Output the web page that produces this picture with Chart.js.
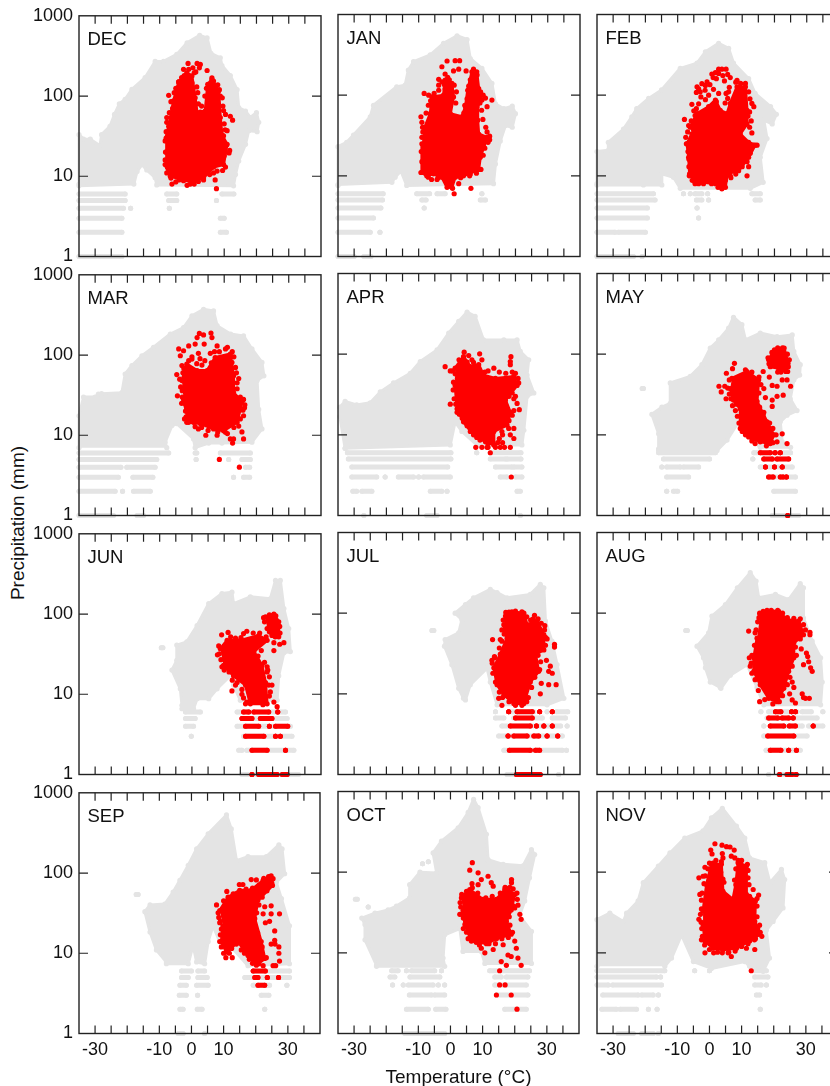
<!DOCTYPE html>
<html><head><meta charset="utf-8">
<style>
html,body{margin:0;padding:0;background:#fff;width:830px;height:1086px;overflow:hidden}
#wrap{position:relative;width:830px;height:1086px;overflow:hidden}
canvas{position:absolute}
#ytitle{position:absolute;left:18px;top:523px;transform:translate(-50%,-50%) rotate(-90deg);font:19px "Liberation Sans",sans-serif;color:#111;white-space:nowrap}
</style>
<script src="https://cdn.jsdelivr.net/npm/chart.js@4"></script>
</head><body><div id="wrap"><div id="ytitle">Precipitation (mm)</div></div>
<script>
const months=["DEC","JAN","FEB","MAR","APR","MAY","JUN","JUL","AUG","SEP","OCT","NOV"];
const xTickLabels=[-30,-10,0,10,30];
const yTicks=[1,10,100,1000];
const xTitle="Temperature (°C)";

// outline of the grey cloud [T,P]; rows [P,T1,T2]; red area outlines [T,P]; red rows; red points; red edge points
const decGray=[[-35,8],[-35,33],[-33.6,29],[-31.5,29],[-28.5,24],[-28,33],[-25.4,42],[-24,59],[-22.5,80],[-20.7,91],[-18.6,121],[-14.5,170],[-11.4,270],[-8.8,270],[-4.7,330],[-1.5,460],[2.4,570],[4.7,530],[5.9,340],[8.8,300],[9.3,240],[11.9,180],[14,120],[14.5,72],[16.6,65],[18.1,54],[20,62],[20.7,47],[20.2,36],[17.6,37],[16.6,25],[14.5,15.5],[13.5,10.5],[12.9,7.6],[-10.9,7.8],[-11.4,9.6],[-14,12],[-15.5,14],[-17,11.5],[-18,8],[-35,7.6]];
const decGrayRows=[[6,-35,-20.7],[5,-35,-20.7],[4,-35,-21.2],[4,-19,-19],[3,-35,-21.7],[2,-35,-21.7],[1,-35,-29.5],[1,-28.5,-21.7],[6,-7.8,-4.7],[5,-7.2,-4.7],[4,-7,-7],[5,7.6,7.6],[6,9.3,13],[3,8.8,10],[2,8.8,10.7]];
const decRedArea=[[[-8.3,27.6],[-7.2,42],[-5.7,87],[-4.1,150],[-1.6,195],[0,178],[1,95],[1.6,62],[4.1,65],[4.9,140],[6.2,161],[8.3,116],[8.8,54],[9.3,33],[10.9,25],[9.8,14],[6.7,13],[3.6,9.6],[0,8.4],[-3.1,9.2],[-6.7,10],[-8.3,14]]];
const decRedRows=[];
const decRed=[[-1.2,255],[1.6,255],[2.6,248],[2.3,225],[-2.6,215],[.7,195],[-1,178],[4.7,208],[6.2,169],[6.7,154],[-4.1,150],[-1.6,140],[0,146],[-3.1,127],[0,116],[8,138],[5.7,116],[8.8,100],[-7.2,102],[-3.6,100],[.5,91],[5.2,91],[2.6,63],[-7.8,54],[-7.8,47],[10.4,59],[11.9,56],[12.6,50],[10.9,37],[9.8,32],[10.7,24.5],[11.7,21],[11.5,19.5],[10.4,13],[7.8,11.6],[6.7,11],[-7.8,11],[-6.2,8],[-2.6,8.8],[-.5,8],[.7,8],[7.6,7],[7.2,9],[-6.5,9.5],[-8,30],[-8,20]];
const decRedEdge=[[-8.2,20],[-8,36],[-7.5,30],[-8.3,16],[-7.6,13],[-6.7,12],[-7,62],[-6,70],[-6.5,85],[-5.5,110],[-5,125],[-4.5,105],[-3.2,170],[-2.4,180],[-1,215],[.3,225],[1.2,200],[1.5,130],[1.8,110],[2,80],[3,75],[4,100],[4.5,125],[7,130],[8.5,120],[9.4,95],[9.6,75],[9.8,66],[10,45],[10.3,38],[10,18],[8,16],[9,28],[-5,8.5],[-4,9],[-1.5,7.7],[2,8.6],[3.6,9],[5.5,10.5],[7.5,14],[9.5,11.8]];

const janGray=[[-35,7.6],[-35,23],[-32.3,26],[-30.2,32],[-25,54],[-24,75],[-16.8,127],[-14.2,133],[-13.2,205],[-11.6,260],[-6.4,315],[-2.3,440],[1.9,545],[5,490],[6,285],[9.6,215],[12.7,140],[13.8,78],[16.4,68],[19,73],[20,59],[19,40],[16.9,42],[15.3,27],[13.8,14],[13.2,8],[-13.7,7.6],[-15.5,11.5],[-17.3,9.6],[-18.3,8.3],[-35,7.8]];
const janGrayRows=[[6,-35,-21],[6,-10.6,-6.6],[6,-4.3,-1.8],[6,9.6,9.6],[5,-35,-21.2],[5,-9,-7.7],[5,9.1,10.7],[4,-35,-21.7],[4,-8.3,-8.3],[3,-35,-24],[2,-35,-25],[2,-22,-22],[1,-35,-30],[1,-27,-24.8]];
const janRedArea=[[[-8.7,35],[-6.4,59],[-5.9,95],[-2.3,100],[-1.8,154],[.3,140],[.8,95],[-.2,59],[3.4,54],[4.5,72],[5.2,115],[6.5,195],[8.1,178],[8.6,121],[9.6,87],[8.1,72],[8.3,49],[8.6,33],[11.2,30],[9.1,17],[8.6,12],[3.9,10],[1.3,9.6],[.3,7.2],[-1.2,7.2],[-2.8,9.6],[-5.4,10.6],[-7.5,10],[-9,11],[-9,25]]];
const janRedRows=[];
const janRed=[[-1.2,265],[-2.8,225],[1.3,268],[2.7,268],[2.4,210],[.8,200],[-1.8,183],[-1,166],[-3.8,157],[-2.8,146],[-3.8,133],[-1.8,120],[1,133],[-8.3,105],[-6.9,100],[4.7,200],[10.7,92],[12.7,87],[11.2,72],[9.9,50],[11.2,35],[12,31],[10.1,25],[7.9,10.8],[9.3,12],[5.8,10],[6.2,7],[1,6],[2.4,8],[-4.3,9],[1.9,10],[-9.3,54],[-9,46]];
const janRedEdge=[[-9,30],[-8.8,40],[-9.2,20],[-9,15],[-9.3,11],[-7.7,60],[-7,75],[-6.3,85],[-5.2,105],[-3.8,115],[-2,135],[-.5,155],[1.7,110],[1.5,80],[5,90],[4,60],[4.3,75],[6,155],[5.5,130],[7,210],[8,195],[9.2,110],[10,100],[9.5,65],[9,80],[10.8,40],[12,28],[11.5,26],[10.5,22],[10,18],[-7,9.6],[-6,9],[-4,9.5],[-1,7.5],[.5,7],[3,9.5],[6,10.5],[8,12]];

const febGray=[[-35,8],[-35,20],[-31.5,20.7],[-31.5,26],[-26.8,38],[-24.2,54],[-22.7,68],[-19,91],[-15,116],[-9.2,215],[-4,250],[-1.4,345],[2.7,440],[5.8,380],[7.3,250],[12,160],[14,105],[18.8,72],[20.6,58],[19.3,44],[16.7,49],[17.7,29],[15.6,17],[16.5,8.3],[12.5,7],[-9.2,7],[-11.3,9.6],[-14.9,10.6],[-14.9,7.7],[-20.6,7.7],[-35,7.7]];
const febGrayRows=[[6,-35,-17.5],[6,-8.2,-8.2],[6,-6.1,-6.1],[6,-4.6,-2.5],[6,-.7,-.7],[6,13,15.6],[5,-35,-17],[5,-4.2,-2.5],[5,-.4,-.4],[5,14,15.6],[4,-35,-19.4],[4,-4,-4],[3,-35,-19.4],[3,-3.5,-3.5],[2,-35,-29.4],[2,-28.4,-20],[1,-35,-23.7],[1,-21,-21]];
const febRedArea=[[[-6.1,40],[-4,59],[-.4,72],[1.7,87],[3.2,65],[5.3,59],[6.3,79],[8.4,127],[11,127],[11.5,65],[11.5,44],[9.4,33],[12,26],[14,24],[12,17],[8.9,11.6],[5.3,10.6],[4.8,7.2],[3.7,6.9],[1.7,8],[-2,8.3],[-4.6,8.3],[-6.3,10.6],[-6.6,17],[-7.1,25],[-5.6,33]]];
const febRedRows=[];
const febRed=[[2.7,210],[3.7,210],[5,210],[.6,183],[2.7,186],[2,160],[-.9,146],[-2.5,139],[-4,127],[-1.4,132],[6.3,165],[8.4,153],[5.5,181],[-4.2,108],[-3,110],[1.1,118],[2.7,105],[-.4,100],[-1.4,88],[5.5,91],[2,83],[-5.6,77],[-4.2,68],[-7.9,50],[-6.6,42],[-4.6,56],[13,79],[13.6,72],[12.3,62],[12.3,40],[5.8,110],[6.8,71],[14.6,24],[-6,11.6],[-6.4,10],[12,13],[11.5,10],[6.3,10],[-4.6,8],[-2,8],[3.7,7],[4.8,8.8]];
const febRedEdge=[[-7.3,25],[-7.5,30],[-6.8,20],[-6.9,35],[-6.5,13],[-6.5,16],[-5.8,48],[-5,64],[-3.5,78],[-2.8,95],[-3.5,120],[-1.5,115],[0,135],[1,165],[1.7,190],[4,175],[4.5,150],[6,125],[5,105],[4.7,80],[8,145],[9.5,140],[11,140],[12,110],[12.4,90],[11.8,55],[12.8,48],[13,34],[12.8,22],[13.5,24],[12.5,19],[11.5,15],[10,13],[-5.5,8.8],[-3.5,8],[-1,8.6],[.5,8],[2.5,7.2],[6.5,9.5],[8,10.5]];

const marGray=[[-35,7],[-35,17.5],[-33.6,30],[-30,30],[-29,32.7],[-28,33],[-21.7,34],[-20.7,58],[-18.6,74],[-15.5,98],[-11.9,125],[-6.7,183],[-2.6,220],[0,308],[3.6,372],[6.7,355],[7.8,232],[12,183],[16,173],[18.6,119],[21.7,81],[22.3,55],[20.2,48],[20.7,21],[21.7,12],[18.6,8.2],[9.3,8],[5.2,8],[1,7],[.5,9],[-4.7,14],[-6.2,13.2],[-8.3,8.2],[-7.8,7]];
const marGrayRows=[[6,-35,-7.2],[6,1,1.5],[6,8.8,18.1],[5,-35,-10.9],[5,1.3,1.3],[5,11.4,11.4],[5,15.5,18.1],[4,-35,-22],[4,-20.2,-11.4],[4,16.6,17.9],[3,-35,-22.8],[3,-18.3,-12.1],[3,12.9,12.9],[3,16,17.9],[2,-35,-23.8],[2,-21.5,-21.5],[2,-18.1,-12.9],[1,-35,-24.3],[1,-17,-15]];
const marRedArea=[[[-3.1,48],[-1.6,77],[1.6,64],[4.7,64],[7.2,93],[11.9,103],[12.9,55],[12.9,34],[15.5,26],[14,14.5],[9.8,11.4],[6.7,12],[2.6,14],[-1,14.5],[-2.6,28]]];
const marRedRows=[];
const marRed=[[2.3,186],[5.9,188],[3.6,178],[1.6,165],[3.8,137],[6.2,165],[-1,130],[1,137],[-4.1,119],[-2.6,113],[2,105],[5.7,105],[-3.6,98],[0,89],[3.1,75],[-3.1,74],[7.8,130],[10.4,119],[-4.7,57],[-4.5,31],[14.5,51],[13.5,70],[12.4,81],[16.4,24],[15.8,20.5],[16,17.5],[15.5,11],[16,9],[14.5,13],[12.6,8],[11.9,9],[12.9,9],[2,12],[4.3,10],[7.8,10],[8.5,5],[14.7,4],[-2,24.5],[-1.6,14.5],[10.4,10.9]];
const marRedEdge=[[-3.8,50],[-3.5,40],[-3,36],[-3,30],[-3.2,25],[-2,20],[-2.3,16],[-1.8,17],[-2.8,60],[-2.5,68],[-1,85],[0,95],[1.5,78],[2.5,90],[4,85],[6,80],[7,110],[8.5,110],[11,125],[12.5,110],[13,95],[13.8,60],[14,45],[14,38],[15,30],[16,28],[16.3,22],[15,16],[13,12.5],[11,10.5],[8,11],[5,11.5],[3,12.5],[1,12.8],[.5,14.5]];

const aprGray=[[-32.8,6.8],[-34.4,16.7],[-34.4,22],[-32.8,26],[-29.2,23.5],[-25,25],[-21.9,34],[-17.8,44],[-12.6,58],[-9.5,81],[-4.3,113],[-.7,183],[2.4,255],[5,333],[7.5,295],[10.1,150],[16.4,150],[20.5,150],[21.5,108],[24.1,85],[23.6,55],[25.7,33],[23.6,30],[22.6,11.4],[22,7.5],[8,7.5],[3.4,11],[1.3,14.5],[-.2,7.5],[-32.8,6.8]];
const aprGrayRows=[[6,-32.1,0],[6,8,8],[6,12.2,21.7],[5,-31.8,0],[5,12.2,16.9],[5,17.4,21.7],[4,-30.7,-1],[4,13.8,18.9],[4,19.5,22],[3,-30.7,-23],[3,-20.4,-20.4],[3,-16.3,-11.6],[3,-10,-10],[3,-8.5,-.2],[3,15.3,17.4],[3,20,22],[2,-30.4,-29.2],[2,-27.6,-24.5],[2,-6.4,-2.8],[2,-1.2,-1.2],[2,20.5,21.5],[1,-27,-27],[1,-7.5,-4.3],[1,21.5,21.5]];
const aprRedArea=[[[1.3,67],[3.9,93],[6,70],[8.6,74],[10.1,55],[13.8,50],[19.5,53],[20.5,41],[16.9,27],[18.4,19],[17.4,13.2],[13.3,11],[13.3,7.5],[10.7,8.2],[7,10],[3.9,14.5],[1.9,21],[1.3,41]]];
const aprRedRows=[];
const aprRed=[[-1.8,70],[-.2,62],[1.3,57],[4.1,106],[5.5,96],[8.9,101],[7,79],[9.6,85],[13.3,67],[18.6,93],[18.4,81],[18.4,74],[-.2,24],[1.9,19],[21,44],[20,30],[20.5,24.5],[21.2,20.5],[19.5,28],[19,17.5],[19.5,12],[18.4,10],[19.5,9],[17.9,12],[15.8,11],[7.7,7],[9.6,7],[11.2,7],[12.2,6],[13.8,7],[15.3,7],[16.6,7],[18.4,7],[18.7,3],[16.4,14.5],[17.4,16]];
const aprRedEdge=[[.5,62],[2.5,85],[3,75],[2,50],[.8,45],[.7,36],[1,28],[1.5,24],[2.6,18],[3.5,16],[5,13],[6,11],[8,9.3],[9,8.6],[11.5,7.8],[5,80],[6.5,85],[10.5,60],[11.5,62],[15,60],[17,58],[19,60],[20,58],[20.8,50],[19,33],[18,30],[19.5,20],[18,15],[16,10],[15,9],[14.5,8],[11.5,7],[16,8]];

const mayGray=[[-15.9,6.7],[-15.9,10.3],[-18,18],[-14.9,22],[-12.3,24.5],[-12.3,44],[-6.1,53],[-2.5,74],[.1,119],[2.7,150],[5.8,210],[7.3,287],[9.9,232],[11,150],[15.6,183],[20.8,165],[25.5,173],[26,108],[28,74],[27.8,55],[26,48],[24.9,28],[27,20],[23.9,17.5],[21.8,14.5],[22.4,8.2],[25,7],[15.6,7],[11.5,10],[8.9,14.5],[5.3,8.6],[2.2,6.4],[-15.9,6.4]];
const mayGrayRows=[[37.5,-21,-20.6],[6,-15.9,1.7],[6,13.6,25],[5,-14.4,-.1],[5,13.3,13.3],[5,16.7,24.4],[4,-14.9,-14.9],[4,-13.4,-9.2],[4,-8.2,-3.5],[4,15.6,25.5],[3,-13.4,-6.6],[3,18.2,26.5],[2,-13.4,-13.4],[2,-11.3,-10],[2,19.8,26.5],[1,19.3,27.5]];
const mayRedArea=[[[6.8,50],[11.5,61],[15.1,48],[14.6,26],[17.7,14.5],[19.8,10],[18.7,7.8],[15.6,8.2],[12,9.4],[9.4,12],[9.4,21],[7.3,27],[6.3,37.5]],[[18.2,85],[20,113],[23,119],[24.2,77],[23.5,61],[21.3,67],[18.7,70]]];
const mayRedRows=[[6,15.6,18.7],[6,20.2,20.2],[6,21.8,21.8],[5,16.7,19.3],[5,20.8,24.4],[4,17.2,17.2],[4,20,20],[4,22.4,22.4],[3,18.2,19.6],[3,21.8,22.7],[3,23.7,23.7],[1,24.1,24.1]];
const mayRed=[[7.6,77],[5.1,58],[7,66],[2.8,40],[4.6,40],[3.5,34],[5,28],[7.9,20],[16.5,61],[18.4,52],[19.3,41],[16.7,37.5],[20.8,40],[22.4,48],[23.9,48],[24.1,61],[25,40],[22.7,31],[20.8,30],[19.3,27],[17.2,29],[19.3,22.5],[16.7,19],[22.4,10.3],[23.9,7.8],[20.8,8.2]];
const mayRedEdge=[[6,48],[5.5,38],[6,32],[6.5,28],[7,23],[8.2,24],[8.5,17],[9,14],[10,11],[11,10],[13,8.4],[14,7.8],[9,52],[11,64],[13,60],[15.2,52],[15.8,42],[15.2,33],[15.4,22],[16.5,18],[18.5,14],[19.5,12],[20.5,10],[19.5,8],[17.5,7.3],[18,90],[19.2,105],[21,120],[22.5,120],[24,100],[24.6,85],[24.3,70],[22,60],[18.3,76],[21,60]];

const junGray=[[-3.1,7.3],[-3.6,11.7],[-6.2,20],[-4.7,26.5],[-4.7,41],[-1.6,45],[1.6,72],[5.2,135],[9.3,180],[12.4,187],[12.9,135],[18.1,164],[24.3,155],[25.9,262],[27.4,262],[28.5,117],[30,66],[30.5,34],[28.5,33],[26.9,17],[26.4,8.4],[15,8.4],[12.9,13],[11.9,17],[7.8,11.7],[5.2,8.8],[1.6,8.8],[.5,6.6],[-3.1,6.6]];
const junGrayRows=[[38,-9.5,-9],[6,-2,2.6],[6,14,29],[5,-2,1],[5,15.5,29.5],[4,-2,.5],[4,14,30.5],[3,-.2,-.2],[3,16,31],[2,14.5,15.5],[2,17,31.6],[1,15.5,33]];
const junRedArea=[[[8.8,37],[10.9,47],[15,47],[20.7,54],[23.3,47],[19.2,34],[21.7,23],[22.8,14],[23.3,7.6],[18.1,7.6],[16.6,13],[12.9,17],[9.8,23]],[[22.8,92],[25.4,100],[26.9,80],[26.9,52],[24.8,54],[23.3,66]]];
const junRedRows=[[6,16,17.6],[6,19.2,23.8],[6,26.6,26.6],[5,15.5,18.6],[5,21.2,24.8],[4,16.6,20.7],[4,24,24],[4,25.9,29.7],[3,16.6,22.3],[3,25.9,25.9],[3,27.4,27.4],[2,18.6,23.3],[2,29,29],[1,18.6,18.6],[1,20.7,26.4],[1,28,29.5]];
const junRed=[[9.2,55],[11.2,59],[17,61],[15.2,51],[7.9,31],[9.3,22],[12.4,11],[13.5,13],[15.5,10],[23.3,22],[23.3,19],[24,16.5],[24.8,13],[24.3,10.7],[25.4,8],[26.4,7],[25.4,44],[28.5,44],[27.2,42],[25.4,35],[21.7,47],[16.6,7.6]];
const junRedEdge=[[8.3,40],[8.5,32],[9,27],[10,20],[11.5,19],[12.5,15],[14,14],[15.5,11.5],[16,9],[17,8],[12,52],[13.5,50],[16,57],[19,58],[21,58],[23,52],[21.5,35],[20.5,30],[22.5,25],[23.5,20],[23.8,13],[24,9.5],[22,7.4],[22.2,90],[22.5,80],[24,98],[26,95],[27.2,70],[27.3,58],[25.8,52],[24,60]];

const julGray=[[3.9,8.8],[2.4,11.7],[.3,23],[-2,39],[-1.8,47],[2.4,57],[3.4,83],[1.3,100],[4.5,128],[7,155],[12.2,197],[14.3,180],[17.4,155],[24.6,171],[27.7,228],[28.8,206],[29.3,80],[31.3,45],[32.9,23],[35,8.8],[29.8,7.3],[14.3,7.3],[12.2,14],[11.2,20.8],[6,13],[4.5,8.4]];
const julGrayRows=[[61,-5.9,-5.3],[6,13.8,13.8],[6,17.9,25.7],[6,29.8,29.8],[6,32.7,36.2],[5,13.8,16.4],[5,19.5,28.3],[5,31.4,35.5],[4,15.8,34],[4,36,36],[3,14.8,34.5],[2,16.4,34.5],[2,35.8,35.8],[1,17.4,27.2],[1,33.4,33.4]];
const julRedArea=[[[16.9,92],[18.9,104],[22.6,100],[23.6,72],[26.7,80],[28.8,54],[28.8,35],[26.2,31],[27.2,19],[24.6,14],[22.6,7.6],[19.5,7.6],[16.4,9.7],[14.3,13],[13.3,21],[15.3,31],[17.4,49],[16.4,72]]];
const julRedRows=[[6,17.9,17.9],[6,20.5,25.2],[6,27.5,27.5],[6,31.4,31.4],[5,20,25.2],[4,18.4,24.6],[4,26.5,26.5],[4,28.8,28.8],[4,31.4,31.4],[3,17.7,17.7],[3,19.5,23.6],[3,25.7,27.2],[3,29.8,29.8],[3,33.1,33.1],[2,18.1,24.6],[2,26.2,27.5],[1,20.3,27.7]];
const julRed=[[12.9,47],[15.3,47],[29.1,70],[25.9,94],[32.1,41],[32.1,38],[29.8,48],[29.6,26],[30.8,22],[31.4,18],[30.3,19],[30.3,13],[32.6,13],[28,13.5],[27.7,10],[12.7,26],[13.5,29],[14.8,8.8],[15.8,7.2]];
const julRedEdge=[[16.2,82],[17,102],[18,103],[20,106],[22,104],[23.5,90],[24.7,82],[25.5,85],[27,85],[28,75],[29,62],[29.3,50],[29.3,40],[27,30],[27.8,25],[27.5,20],[26,16],[25,12],[24,9],[23.5,8],[22,7.2],[20,7.2],[18,8],[16,9],[15,10.5],[13.8,14],[13,18],[12.8,24],[13.5,28],[15,37],[15.8,45],[16.5,55],[15.8,62]];

const augGray=[[3.2,12],[.1,14],[-1.4,21],[-2,28],[-4,39],[-.4,57],[.6,92],[4.8,128],[8.5,206],[12.5,318],[14.3,250],[15.1,155],[20.3,171],[24.4,147],[28,232],[29,206],[29,87],[31.7,45],[34.3,28],[34.8,14],[34.3,7.3],[16.7,7.3],[14.6,12],[11.5,23],[6.3,17],[3.4,11.7]];
const augGrayRows=[[61,-7.5,-7],[6,15.8,15.8],[6,18.2,27],[6,28.6,31.4],[6,35,35],[5,17.7,33.2],[4,16.7,16.7],[4,18.7,28.6],[4,30.6,35],[3,16.7,30.1],[2,17.4,28],[1,18.2,18.2],[1,21.3,27]];
const augRedArea=[[[15.6,96],[17.7,108],[21.3,105],[23.9,83],[27.5,80],[29,54],[26,43],[26,28],[24.4,19],[22.9,11.7],[20.8,8],[18.2,8.8],[15.6,13],[13.6,19],[13.6,28],[14.6,49]]];
const augRedRows=[[6,20.3,22],[6,25.3,25.3],[6,26.5,26.5],[5,18.2,21],[5,22.4,24.4],[5,25.8,25.8],[4,18.7,22.9],[4,24.6,26.5],[4,32,32],[3,17.9,26],[2,18.7,22],[2,24.4,24.4],[2,26.8,26.8],[1,21.6,21.6],[1,23.9,25.5],[1,26.7,26.7]];
const augRed=[[12,60],[14,57],[31,58],[31,54],[28.3,36],[29.9,32],[30.3,29],[29,23],[30.6,25],[31.2,21],[31.7,19],[25.5,14],[26,12],[28.6,10],[24.7,10],[25.5,8.4],[29,9],[29.6,8.8],[30.8,8.8],[15.4,8],[12.2,28],[12.5,22],[26.5,7.7]];
const augRedEdge=[[15.2,88],[15.4,100],[16.5,105],[19,108],[21,108],[22.5,100],[24,88],[26,86],[28,85],[29,72],[29.6,62],[28,48],[26.5,38],[26.8,30],[25.5,22],[24.8,16],[24,13],[22.5,9.5],[21.5,8],[19.5,7.5],[17,8.5],[15,11],[14,15],[13,18],[12.8,24],[13,30],[13.8,40],[14.3,62],[14.8,78]];

const sepGray=[[-7.8,7.8],[-10.9,11],[-12.9,18.4],[-14.5,33],[-12.9,40],[-8.3,41],[-5.7,58],[-3.6,81],[-1,125],[1.6,200],[5.2,308],[10.9,530],[12.4,355],[14,143],[17.6,160],[23.3,160],[27.2,225],[28.2,200],[29,98],[26.4,77],[28,48],[30.5,22],[30.5,7.4],[17.6,7],[12.9,11.4],[8.8,14],[6.7,22],[5.2,14],[4.1,7.4],[1.6,7.8],[.5,12.6],[-1,7.4],[-7.8,7.4]];
const sepGrayRows=[[54,-17.2,-16.6],[6,-3.1,0],[6,2,4.1],[6,19.2,30.5],[5,-3.1,-1],[5,2,4.9],[5,16.6,30.5],[4,-3.6,-1.6],[4,1.6,5.2],[4,19.2,24.3],[4,29.7,29.7],[3,-3.8,-1.6],[3,1.9,1.9],[3,21.7,24.1],[2,-3.6,-2.6],[2,1.8,3.3],[2,22.8,22.8],[1,-4.1,-2.6],[1,4.1,4.1]];
const sepRedArea=[[[8.8,34],[11.4,50],[15,61],[18.6,61],[22.3,81],[24.8,92],[25.2,70],[20.7,46],[19.7,27],[21.7,14],[22.8,8.6],[20.2,7.1],[17.6,9.4],[14.5,14],[10.9,10.3],[9.3,14],[9.8,22]]];
const sepRedRows=[[6,19.2,23],[5,19.7,20.7],[5,23.6,23.6],[5,27.1,27.1],[4,20.7,22.8]];
const sepRed=[[14.9,72],[16,72],[18.6,83],[20.2,82],[11,59],[7.8,40],[8.8,24],[22.8,38],[24.8,39],[22.3,31],[24.8,31],[27.4,31],[23,24],[24.3,25],[25.9,19],[25.9,14.5],[24.8,13],[26,13],[27.2,12],[27.2,10],[27.4,8],[25.4,7],[26.2,7],[9.3,12],[10.7,8.8],[12.7,8.8],[22,12],[23.3,8.8],[22.3,7]];
const sepRedEdge=[[8.3,32],[8.5,28],[9,25],[9.3,20],[9,17],[8.8,14],[10,10],[11.8,10],[12.5,11.5],[14,13],[15.5,11],[16.5,10],[18,8.4],[19,7.5],[21,7.4],[22,9],[21,12],[20,20],[20.6,18],[20.3,32],[21,40],[22,50],[23.5,60],[25,75],[25.4,85],[24,90],[22.5,86],[21,70],[19,65],[17,63],[13,55],[10,45]];

const octGray=[[-23,7],[-26.6,14.5],[-26.6,22.5],[-27.6,27],[-23.5,31],[-19.4,34],[-16.8,38],[-12.7,48],[-12.7,70],[-9.5,100],[-4.3,98],[-5.4,173],[-2.8,242],[2.4,355],[5.5,550],[7.2,800],[8.6,630],[11.2,295],[11.7,143],[16.4,125],[22.6,120],[25.2,190],[26.2,165],[24.6,85],[23.1,44],[21.5,29],[25.2,18.4],[25.2,7.4],[10.7,7.4],[9.6,10.4],[3.9,10.4],[2.9,20],[-1.8,16.7],[-2.3,8.6],[-1.8,6.8],[-23,6.8]];
const octGrayRows=[[46,-29.6,-29],[37,-25.6,-25.6],[135,-6.9,-6.9],[127,-8.7,-8.7],[6,-18.3,-16.3],[6,-13.7,-13.7],[6,-12.1,-4.9],[6,-2.8,-2.8],[6,12.2,24.6],[5,-18.8,-17.3],[5,-12.6,-3.3],[5,13.8,15.8],[5,17.4,24.1],[4,-18,-18],[4,-14.7,-14.7],[4,-13.1,-5.4],[4,-3.8,-3.8],[4,-1.8,-1.8],[4,13.8,23.6],[3,-12.8,-5.9],[3,-4.9,-1.8],[3,14.3,24.1],[2,-13.7,-6.9],[2,-4.6,-1.4],[2,16.9,23.6],[1,-14.2,-1.8]];
const octRedArea=[[[3.4,48],[6,61],[10.1,46],[14.3,46],[17.4,63],[20,53],[18.9,34],[17.4,24.5],[18.9,17],[14.3,15],[11.2,13],[6.5,14],[4.5,22.5],[3.9,33.5]]];
const octRedRows=[];
const octRed=[[6.8,131],[6,106],[8.6,98],[9.6,81],[6.7,72],[11.7,89],[12.7,74],[13.3,67],[8.6,70],[19,81],[19,74],[16.9,61],[2.9,30],[21,39],[21.6,30],[22,26],[20,36],[17.9,19],[20,14],[20.5,11.4],[21,8.6],[22,7],[18.9,9],[17.4,7],[15.8,7.8],[15.3,6],[13.3,11],[10.7,10],[9.6,11.4],[16.4,12.6],[15.3,4],[17,4],[14.3,3],[18.9,3],[20.7,2],[17.9,9.4]];
const octRedEdge=[[3,42],[3.2,37],[3.5,30],[4,27],[4,20],[5,18],[5.5,15],[8,13.5],[9,12.5],[12,13],[14,13],[16,15],[18,15.5],[19.3,18],[18.5,22],[18.3,28],[19.7,38],[20.8,46],[20.7,55],[19.5,62],[18.5,65],[17,65],[15.5,55],[13,50],[11,48],[8.5,55],[6.8,64],[5,58],[3.5,53]];

const novGray=[[-35,6.8],[-35,25.8],[-31,31],[-26.8,24.5],[-25.8,31],[-22.2,44],[-20.6,74],[-15.9,119],[-12.3,173],[-7.7,265],[-2,325],[.6,470],[4,620],[8.4,372],[11,265],[12.5,150],[17.2,131],[18.8,74],[22.4,108],[23.4,81],[22.9,36],[19.8,24.5],[17.7,19],[18.7,8.6],[16.7,5.9],[12.5,6.8],[11,7.8],[.6,6.4],[-5,7.8],[-8.7,16.7],[-11.8,8.6],[-13.9,6.8]];
const novGrayRows=[[6,-35,-13.9],[6,-4.6,-4.6],[6,0,0],[6,14.1,17.7],[5,-35,-16.5],[5,-15.2,-15.2],[5,14.1,18.2],[4,-35,-31.5],[4,-30.1,-14.9],[4,14.1,16.1],[4,17.7,17.7],[3,-33.2,-22.2],[3,-21.1,-17.5],[3,-15.9,-15.9],[3,14.6,15.6],[2,-33.5,-29],[2,-27.8,-22.7],[2,-19,-19],[2,-16.3,-16.3],[2,15.8,15.8],[1,-28.4,-23.7],[1,-21.1,-17.5],[1,-15.9,-15.9]];
const novRedArea=[[[-2,33],[-.9,70],[.6,125],[3.7,125],[4.2,58],[7.3,46],[8.2,70],[8.9,131],[11.5,119],[11.5,53],[14.3,44],[14.1,24.5],[15.6,17],[12.5,14],[8.4,11.4],[4.2,10.9],[1.1,11.4],[-1.4,14],[-2,22.5]]];
const novRedRows=[];
const novRed=[[1.7,225],[.4,188],[.8,168],[3.9,216],[5.3,207],[6.4,205],[4,170],[4.2,150],[7.7,188],[6.8,158],[7.9,150],[-1.4,115],[1.1,130],[-3.3,85],[-2,89],[4.2,82],[-3,53],[15.3,52],[13.6,61],[-3.3,26],[15.6,22],[16.3,16],[14.3,15],[14.1,11],[11.5,11.4],[-1.4,10],[1.3,10],[6.8,9],[5.8,10],[13,6],[-2.5,14.5],[8.4,61]];
const novRedEdge=[[-2.5,35],[-2.8,30],[-2.4,20],[-2.6,24],[-2.2,16],[-1.5,12.5],[0,11],[2.5,10.2],[4,10],[6,10.2],[8,10.5],[10,12],[12,13],[14,14.5],[15.8,18],[15,20],[14.8,28],[14.8,38],[14.8,47],[12.5,50],[12.3,70],[12,85],[12,105],[11.8,125],[10,140],[9,140],[8.2,110],[7.8,80],[3.5,100],[4.5,75],[3.7,135],[2,140],[0,130],[-.5,110],[-1.3,90],[-1.7,72],[-2.3,55],[-2.5,45]];

const panels=[
 [decGray,decGrayRows,decRedArea,decRedRows,decRed,decRedEdge],[janGray,janGrayRows,janRedArea,janRedRows,janRed,janRedEdge],[febGray,febGrayRows,febRedArea,febRedRows,febRed,febRedEdge],
 [marGray,marGrayRows,marRedArea,marRedRows,marRed,marRedEdge],[aprGray,aprGrayRows,aprRedArea,aprRedRows,aprRed,aprRedEdge],[mayGray,mayGrayRows,mayRedArea,mayRedRows,mayRed,mayRedEdge],
 [junGray,junGrayRows,junRedArea,junRedRows,junRed,junRedEdge],[julGray,julGrayRows,julRedArea,julRedRows,julRed,julRedEdge],[augGray,augGrayRows,augRedArea,augRedRows,augRed,augRedEdge],
 [sepGray,sepGrayRows,sepRedArea,sepRedRows,sepRed,sepRedEdge],[octGray,octGrayRows,octRedArea,octRedRows,octRed,octRedEdge],[novGray,novGrayRows,novRedArea,novRedRows,novRed,novRedEdge]];

const GRAY="#e4e4e4",RED="#fe0000",INK="#222",FONT='"Liberation Sans",sans-serif';
const pts=a=>a.map(([x,y])=>({x,y}));
const rowPts=r=>r.flatMap(([p,a,b])=>[{x:a,y:p},{x:b,y:p},{x:NaN,y:NaN}]);
const area=(a,c)=>({type:"line",data:pts(a),fill:"shape",backgroundColor:c,borderColor:c,borderWidth:3,borderJoinStyle:"round",pointRadius:2.6,pointBorderWidth:0,pointBackgroundColor:c,tension:0,clip:4});
const rows=(r,c)=>({type:"line",data:rowPts(r),borderColor:c,backgroundColor:c,borderWidth:5,borderCapStyle:"round",pointRadius:2.5,pointBorderWidth:0,pointBackgroundColor:c,fill:false,tension:0,spanGaps:false,clip:4});
const dots=(d,c)=>({type:"scatter",data:pts(d),backgroundColor:c,borderWidth:0,pointRadius:2.6,clip:4});

const frame={id:"frame",afterDraw(ch,_a,o){
  const {ctx,chartArea:A,scales:{x,y}}=ch;
  ctx.save();ctx.strokeStyle=INK;ctx.lineWidth=1.2;
  ctx.beginPath();
  x.ticks.forEach(t=>{if(t.value<=x.min||t.value>=x.max)return;const p=x.getPixelForValue(t.value);
    ctx.moveTo(p,A.top);ctx.lineTo(p,A.top+8);ctx.moveTo(p,A.bottom);ctx.lineTo(p,A.bottom-8);});
  y.ticks.forEach(t=>{if(t.value<=y.min||t.value>=y.max)return;const p=y.getPixelForValue(t.value);
    ctx.moveTo(A.left,p);ctx.lineTo(A.left+9,p);ctx.moveTo(A.right,p);ctx.lineTo(A.right-9,p);});
  ctx.stroke();
  ctx.lineWidth=1.4;ctx.strokeRect(A.left,A.top,A.right-A.left,A.bottom-A.top);
  ctx.fillStyle="#111";ctx.font='18.5px '+FONT;ctx.textAlign="left";ctx.textBaseline="alphabetic";
  ctx.fillText(o.label,A.left+8.5,A.top+29.5);
  ctx.restore();
}};

const wrap=document.getElementById("wrap");
const H=55.5;
panels.forEach(([gray,grayRows,redAreas,redRows,red,redEdge],i)=>{
  const col=i%3,row=Math.floor(i/3),bottom=row===3;
  const c=document.createElement("canvas");
  c.width=326;c.height=15.5+242+H;
  c.style.left=(col*259)+"px";c.style.top=(-1+row*259)+"px";
  wrap.appendChild(c);
  new Chart(c,{type:"scatter",
    data:{datasets:[dots(red,RED),dots(redEdge,RED),rows(redRows,RED),...redAreas.map(a=>area(a,RED)),rows(grayRows,GRAY),area(gray,GRAY)]},
    plugins:[frame],
    options:{responsive:false,animation:false,devicePixelRatio:1,events:[],
      layout:{autoPadding:false,padding:{top:15.5,left:0,right:5,bottom:0}},
      plugins:{legend:{display:false},tooltip:{enabled:false},title:{display:false},frame:{label:months[i]}},
      scales:{
        x:{type:"linear",min:-35,max:40,grid:{display:false,drawTicks:false,tickLength:0},border:{display:false},
          afterFit:s=>{s.height=H;},
          title:{display:i===10,text:xTitle,color:"#111",font:{family:FONT,size:19},padding:{top:0,bottom:0}},
          ticks:{display:bottom,stepSize:5,autoSkip:false,maxRotation:0,minRotation:0,padding:6,color:"#111",font:{family:FONT,size:18},
            callback:v=>xTickLabels.includes(v)?String(v):""}},
        y:{type:"logarithmic",min:1,max:1000,grid:{display:false,drawTicks:false,tickLength:0},border:{display:false},
          afterFit:s=>{s.width=79;},
          afterBuildTicks:s=>{s.ticks=yTicks.map(v=>({value:v}));},
          ticks:{display:col===0,autoSkip:false,padding:6,color:"#111",font:{family:FONT,size:18},callback:v=>String(v)}}
      }}});
});
</script></body></html>
